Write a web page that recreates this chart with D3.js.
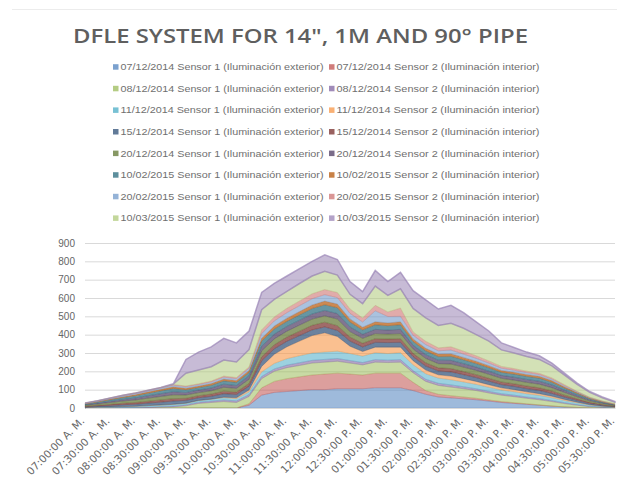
<!DOCTYPE html>
<html>
<head>
<meta charset="utf-8">
<script src="https://cdn.jsdelivr.net/npm/d3@7"></script>
<style>
  body { margin: 0; background: #fff; }
  svg { display: block; }
</style>
</head>
<body>
<svg id="chart" width="617" height="485"></svg>
<script>
// Time of day, every 15 minutes
const times = [
  "07:00:00 A. M.","07:15:00 A. M.","07:30:00 A. M.","07:45:00 A. M.",
  "08:00:00 A. M.","08:15:00 A. M.","08:30:00 A. M.","08:45:00 A. M.",
  "09:00:00 A. M.","09:15:00 A. M.","09:30:00 A. M.","09:45:00 A. M.",
  "10:00:00 A. M.","10:15:00 A. M.","10:30:00 A. M.","10:45:00 A. M.",
  "11:00:00 A. M.","11:15:00 A. M.","11:30:00 A. M.","11:45:00 A. M.",
  "12:00:00 P. M.","12:15:00 P. M.","12:30:00 P. M.","12:45:00 P. M.",
  "01:00:00 P. M.","01:15:00 P. M.","01:30:00 P. M.","01:45:00 P. M.",
  "02:00:00 P. M.","02:15:00 P. M.","02:30:00 P. M.","02:45:00 P. M.",
  "03:00:00 P. M.","03:15:00 P. M.","03:30:00 P. M.","03:45:00 P. M.",
  "04:00:00 P. M.","04:15:00 P. M.","04:30:00 P. M.","04:45:00 P. M.",
  "05:00:00 P. M.","05:15:00 P. M.","05:30:00 P. M."
];

// Axis labels are shown on every second time step
const xTickLabels = times.filter((t, i) => i % 2 === 0);
const yTicks = [0, 100, 200, 300, 400, 500, 600, 700, 800, 900];

const seriesNames = [
  "07/12/2014 Sensor 1 (Iluminación exterior)", "07/12/2014 Sensor 2 (Iluminación interior)",
  "08/12/2014 Sensor 1 (Iluminación exterior)", "08/12/2014 Sensor 2 (Iluminación interior)",
  "11/12/2014 Sensor 1 (Iluminación exterior)", "11/12/2014 Sensor 2 (Iluminación interior)",
  "15/12/2014 Sensor 1 (Iluminación exterior)", "15/12/2014 Sensor 2 (Iluminación interior)",
  "20/12/2014 Sensor 1 (Iluminación exterior)", "20/12/2014 Sensor 2 (Iluminación interior)",
  "10/02/2015 Sensor 1 (Iluminación exterior)", "10/02/2015 Sensor 2 (Iluminación interior)",
  "20/02/2015 Sensor 1 (Iluminación exterior)", "20/02/2015 Sensor 2 (Iluminación interior)",
  "10/03/2015 Sensor 1 (Iluminación exterior)", "10/03/2015 Sensor 2 (Iluminación interior)"
];

// Illuminance readings (lux), one array per date and sensor
const s0712a = [0,0,0,0,0,0,0,0,0,0,0,0,0,15,70,85,90,95,100,100,105,105,105,110,110,110,95,75,60,55,50,45,38,30,25,20,15,10,6,3,1,0,0];
const s0712b = [0,0,0,0,0,0,0,0,0,0,0,0,0,8,40,60,70,75,80,85,85,80,75,80,80,80,45,20,15,12,10,8,6,5,4,3,2,1,0,0,0,0,0];
const s0812a = [0,0,0,0,0,2,4,6,12,25,30,35,30,40,50,55,60,62,65,65,65,60,55,60,58,60,52,50,48,47,45,42,38,35,33,30,28,24,18,12,6,3,1];
const s0812b = [1,2,2,3,3,4,4,5,6,7,8,9,9,10,12,13,14,15,15,15,15,14,13,14,13,14,12,12,12,12,11,10,9,8,8,7,7,6,5,4,3,2,1];
const s1112a = [2,3,4,5,6,7,8,9,8,9,10,12,12,15,25,30,35,38,40,40,40,38,35,38,36,38,32,30,28,28,26,24,22,20,19,18,17,15,12,9,6,4,2];
const s1112b = [0,0,0,0,0,0,0,0,0,0,0,3,5,10,30,50,65,80,95,105,80,40,25,30,35,30,22,20,18,20,18,16,14,12,11,10,9,8,6,4,2,1,1];
const s1512a = [4,6,8,10,12,14,16,18,16,15,16,19,18,21,30,30,30,30,31,32,33,28,25,26,25,26,22,22,21,23,22,21,20,18,18,18,18,16,13,10,7,5,3];
const s1512b = [3,4,6,8,9,10,12,13,11,11,12,14,13,15,22,22,23,24,25,26,26,22,20,20,19,20,18,18,17,18,17,16,15,14,14,14,14,13,10,8,6,4,2];
const s2012a = [5,7,10,12,14,17,19,21,18,17,18,21,20,23,32,32,32,33,34,35,36,30,27,28,27,28,24,24,23,25,24,23,22,20,20,20,20,18,15,11,8,6,4];
const s2012b = [3,5,7,9,11,13,15,17,14,14,15,17,16,18,26,26,26,27,28,29,30,25,22,23,22,23,20,20,19,20,19,18,17,16,16,16,16,15,12,9,6,4,3];
const s1002a = [4,6,8,10,12,14,16,18,15,14,15,18,17,19,28,28,28,29,30,31,32,27,24,25,24,25,21,21,20,22,21,20,19,17,17,17,17,15,12,9,6,4,2];
const s1002b = [2,3,4,5,6,7,8,9,8,8,9,10,10,11,16,16,17,18,19,20,20,17,15,16,15,16,14,14,13,14,13,12,11,10,10,10,10,9,7,5,3,2,1];
const s2002a = [2,3,4,5,6,6,7,8,8,8,9,10,10,12,25,28,30,32,34,35,35,30,28,60,35,30,20,20,18,20,18,16,14,12,11,10,9,8,6,4,3,2,1];
const s2002b = [1,1,2,3,3,3,3,4,4,4,5,6,6,7,20,22,24,26,27,28,28,24,22,30,25,45,18,18,16,18,16,14,12,10,9,8,7,6,5,3,2,1,1];
const s1003a = [0,0,0,0,0,0,0,3,70,75,78,88,85,95,110,95,92,95,97,100,95,80,78,105,90,105,128,128,122,128,125,115,108,90,85,80,76,66,52,38,26,18,10];
const s1003b = [0,0,0,0,0,0,0,1,75,98,108,118,104,101,94,88,84,81,80,89,85,70,66,85,76,90,97,98,90,98,85,70,55,38,30,24,20,15,11,7,5,4,3];

const seriesValues = [
  s0712a, s0712b, s0812a, s0812b, s1112a, s1112b, s1512a, s1512b,
  s2012a, s2012b, s1002a, s1002b, s2002a, s2002b, s1003a, s1003b
];

const colors = [
  "#4F81BD", "#C0504D", "#9BBB59", "#8064A2", "#4BACC6", "#F79646",
  "#2C4D75", "#772C2A", "#5F7530", "#4D3B62", "#276A7C", "#B65708",
  "#729ACA", "#CD7371", "#AFC97A", "#9983B5"
];
// darker shades sit a little denser in the stack
const fillOpacity = [0.55, 0.55, 0.55, 0.6, 0.55, 0.6, 0.7, 0.7, 0.7, 0.7, 0.7, 0.7, 0.6, 0.6, 0.55, 0.55];

const svg = d3.select("#chart");
const W = 617, H = 485;
const plot = { left: 85, right: 615, top: 243, bottom: 408 };

// faint frame edge along the top
svg.append("line")
  .attr("x1", 12).attr("x2", W).attr("y1", 9.5).attr("y2", 9.5)
  .attr("stroke", "#ececec").attr("stroke-width", 1);

// Title
svg.append("text")
  .attr("x", 73).attr("y", 43)
  .attr("textLength", 455).attr("lengthAdjust", "spacingAndGlyphs")
  .attr("font-family", "'Open Sans', 'DejaVu Sans', sans-serif")
  .attr("font-size", 19).attr("font-weight", 600)
  .attr("fill", "#5f5f5f")
  .text("DFLE SYSTEM FOR 14\", 1M AND 90° PIPE");

// Legend: two columns, read left to right
const legend = svg.append("g").attr("class", "legend");
const legItems = legend.selectAll("g").data(seriesNames).join("g")
  .attr("transform", (d, i) => {
    const col = i % 2, row = Math.floor(i / 2);
    return `translate(${col === 0 ? 113 : 329}, ${67 + row * 21.6})`;
  });
legItems.append("rect")
  .attr("x", 0).attr("y", -2.8).attr("width", 5.5).attr("height", 5.5)
  .attr("fill", (d, i) => colors[i]).attr("fill-opacity", 0.75);
legItems.append("text")
  .attr("x", 7.5).attr("y", 3.2)
  .attr("textLength", 203).attr("lengthAdjust", "spacingAndGlyphs")
  .attr("font-family", "'Liberation Sans', Arial, sans-serif")
  .attr("font-size", 9.5).attr("fill", "#6f6f6f")
  .text(d => d);

// Scales
const x = d3.scalePoint().domain(times).range([plot.left, plot.right]);
const y = d3.scaleLinear().domain([0, 900]).range([plot.bottom, plot.top]);

// Gridlines
svg.append("g").selectAll("line").data(yTicks).join("line")
  .attr("x1", plot.left).attr("x2", plot.right)
  .attr("y1", d => y(d) + 0.5).attr("y2", d => y(d) + 0.5)
  .attr("stroke", "#d9d9d9").attr("stroke-width", 1);

// Stacked areas
const keys = seriesNames.map((d, i) => "k" + i);
const rows = times.map((t, i) => {
  const r = { time: t };
  seriesValues.forEach((vals, k) => { r["k" + k] = vals[i]; });
  return r;
});
const stacked = d3.stack().keys(keys)(rows);

const area = d3.area()
  .x(d => x(d.data.time))
  .y0(d => y(d[0]))
  .y1(d => y(d[1]));

svg.append("g").selectAll("path").data(stacked).join("path")
  .attr("d", area)
  .attr("fill", (d, i) => colors[i])
  .attr("fill-opacity", (d, i) => fillOpacity[i])
  .attr("stroke", (d, i) => colors[i])
  .attr("stroke-opacity", (d, i) => i === stacked.length - 1 ? 0.7 : 0.35)
  .attr("stroke-width", (d, i) => i === stacked.length - 1 ? 1.5 : 0.8);

// Y axis
const yAxis = svg.append("g")
  .attr("transform", `translate(${plot.left},0)`)
  .call(d3.axisLeft(y).tickValues(yTicks).tickSize(0).tickPadding(10));
yAxis.select(".domain").remove();
yAxis.selectAll("text")
  .attr("font-family", "'Liberation Sans', Arial, sans-serif")
  .attr("font-size", 10).attr("fill", "#666");

// X axis
const xAxis = svg.append("g")
  .attr("transform", `translate(0,${plot.bottom})`)
  .call(d3.axisBottom(x).tickValues(xTickLabels).tickSize(0));
xAxis.select(".domain").attr("stroke", "#d9d9d9");
xAxis.selectAll("text")
  .attr("x", 0).attr("y", 0).attr("dy", "0.35em")
  .attr("transform", "translate(-3,11) rotate(-45)")
  .attr("text-anchor", "end")
  .attr("font-family", "'DejaVu Sans', sans-serif")
  .attr("font-size", 10.5).attr("fill", "#666");
</script>
</body>
</html>
